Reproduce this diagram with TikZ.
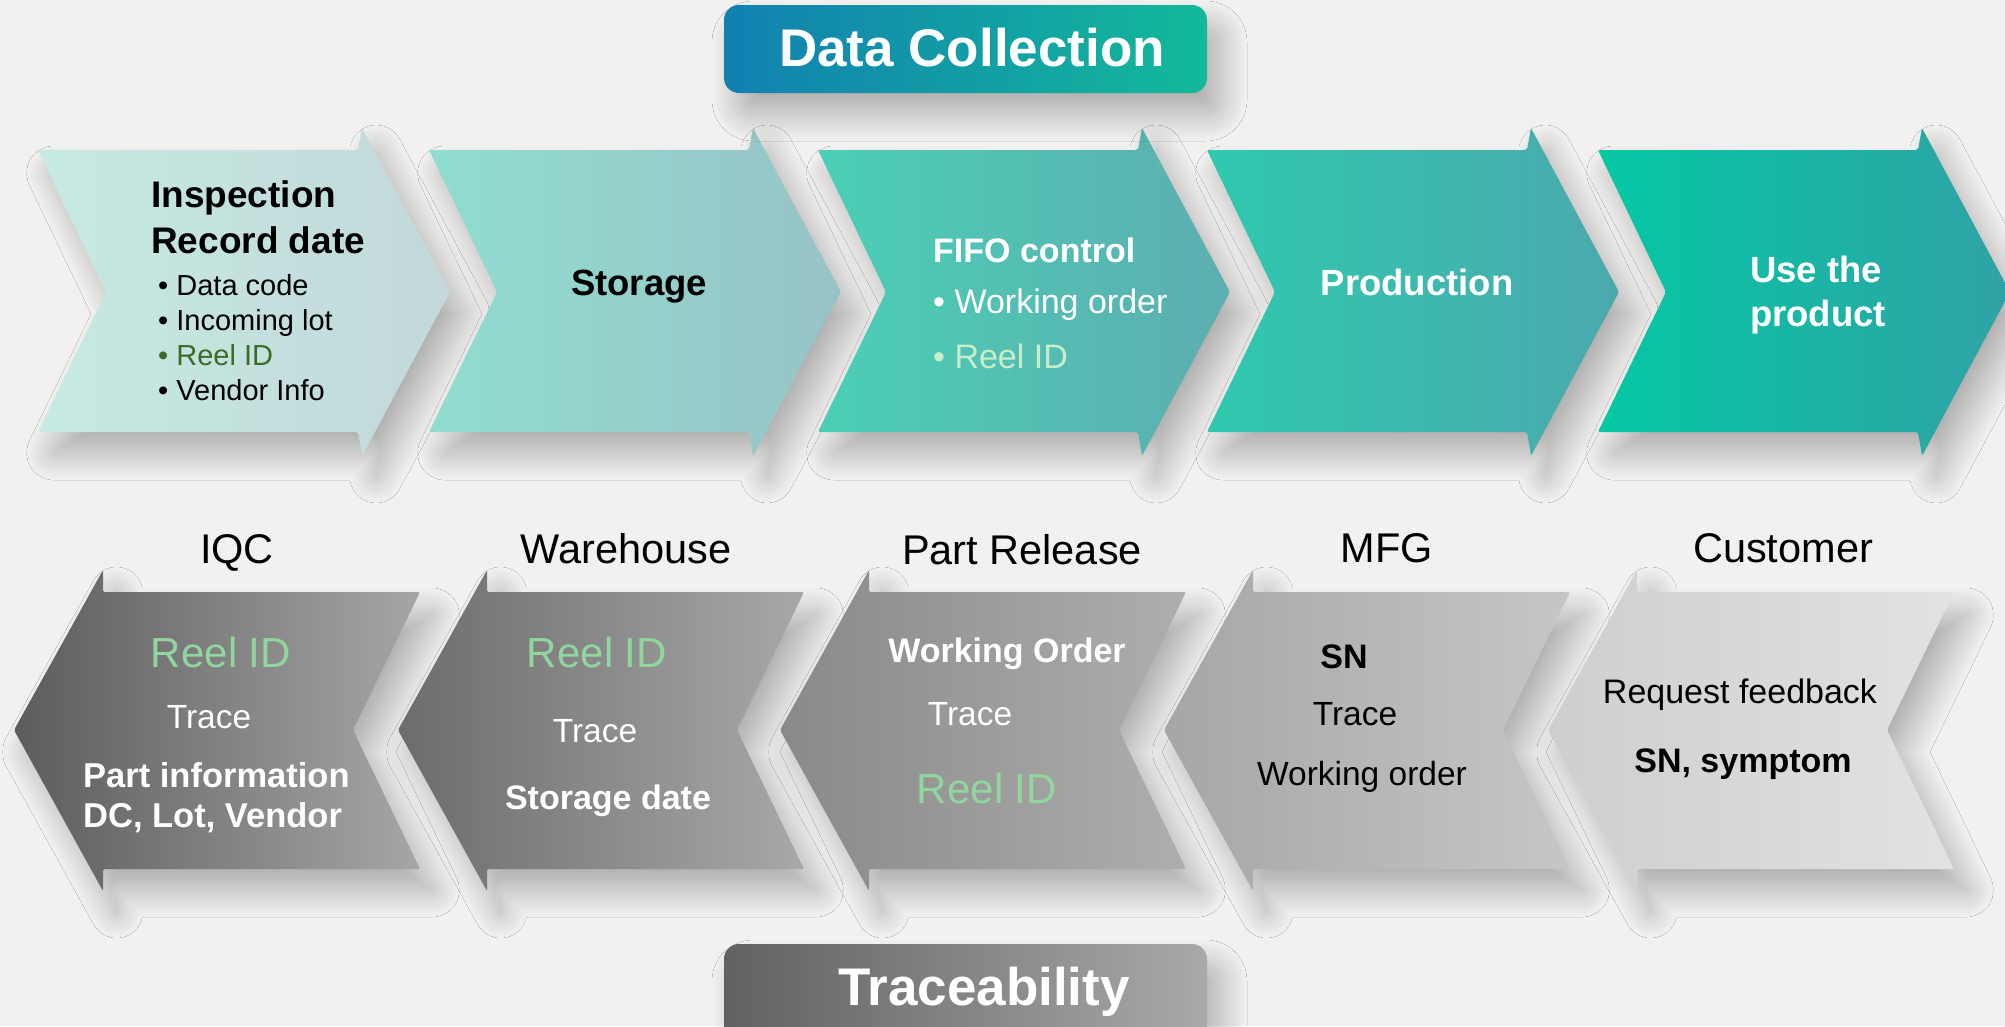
\documentclass[tikz,border=0pt]{standalone}
\usepackage{fontspec}
\setmainfont{Liberation Sans}
\usetikzlibrary{shadows.blur}
\definecolor{bg}{HTML}{F2F1EF}
\definecolor{caL}{HTML}{C6EAE1}\definecolor{caR}{HTML}{C2D8DB}
\definecolor{cbL}{HTML}{90DDCF}\definecolor{cbR}{HTML}{98C3C6}
\definecolor{ccL}{HTML}{4ACFB6}\definecolor{ccR}{HTML}{5DAEB0}
\definecolor{cdL}{HTML}{2FC9AE}\definecolor{cdR}{HTML}{4BA9AE}
\definecolor{ceL}{HTML}{04C8A4}\definecolor{ceR}{HTML}{30A2A6}
\definecolor{gaL}{HTML}{5C5C5C}\definecolor{gaR}{HTML}{A6A6A6}
\definecolor{gbL}{HTML}{6C6C6C}\definecolor{gbR}{HTML}{A8A8A8}
\definecolor{gcL}{HTML}{898989}\definecolor{gcR}{HTML}{AEAEAE}
\definecolor{gdL}{HTML}{A6A6A6}\definecolor{gdR}{HTML}{C6C6C6}
\definecolor{geL}{HTML}{CECECE}\definecolor{geR}{HTML}{E2E2E2}
\definecolor{dcL}{HTML}{1180B0}\definecolor{dcR}{HTML}{13B99A}
\definecolor{trL}{HTML}{616161}\definecolor{trR}{HTML}{A9A9A9}
\definecolor{reelG}{HTML}{90D69E}
\definecolor{reelD}{HTML}{3D6B27}
\definecolor{reelP}{HTML}{C8EDC8}
\newcommand\fsz[1]{\fontsize{#1}{#1}\selectfont}
\newcommand\topchev[3]{%
  \path[shad, left color=#2, right color=#3, rounded corners=2pt]
    (#1,150) -- (#1+320,150) -- (#1+324,128) -- (#1+412,292) -- (#1+324,456)
    -- (#1+320,432) -- (#1,432) -- (#1+68,292) -- cycle;}
\newcommand\botarr[3]{%
  \path[shad, left color=#2, right color=#3, rounded corners=2pt]
    (#1,730) -- (#1+89,570) -- (#1+89,592) -- (#1+406,592) -- (#1+339,730)
    -- (#1+406,869) -- (#1+89,869) -- (#1+89,891) -- cycle;}
\begin{document}
\begin{tikzpicture}[x=1pt,y=-1pt,
  txt/.style={inner sep=0pt, anchor=base},
  shad/.style={blur shadow={shadow xshift=14pt, shadow yshift=-22pt, shadow blur radius=26pt, shadow blur steps=30, shadow opacity=28}}]
\useasboundingbox (0,0) rectangle (2005,1026);
\clip (0,0) rectangle (2005,1026);
\fill[bg] (0,0) rectangle (2005,1026);

% top row
\topchev{38}{caL}{caR}
\topchev{429}{cbL}{cbR}
\topchev{818}{ccL}{ccR}
\topchev{1207}{cdL}{cdR}
\topchev{1598}{ceL}{ceR}

% bottom row
\botarr{14}{gaL}{gaR}
\botarr{398}{gbL}{gbR}
\botarr{780}{gcL}{gcR}
\botarr{1164}{gdL}{gdR}
\botarr{1548}{geL}{geR}

% header boxes
\path[shad, rounded corners=15pt, left color=dcL, right color=dcR] (724,5) rectangle (1207,93);
\node[txt, white, font=\bfseries\fsz{53}] (dc) at (972,66) {Data Collection};
\path[shad, rounded corners=15pt, left color=trL, right color=trR] (724,944) rectangle (1207,1060);
\node[txt, white, font=\bfseries\fsz{53}] (tr) at (984,1005) {Traceability};

% top texts
\node[txt, anchor=base west, font=\bfseries\fsz{37}] (t1a) at (151,207) {Inspection};
\node[txt, anchor=base west, font=\bfseries\fsz{37}] (t1b) at (151,253) {Record date};
\node[txt, anchor=base west, font=\fsz{29}] (t1c) at (158,295) {• Data code};
\node[txt, anchor=base west, font=\fsz{29}] (t1d) at (158,330) {• Incoming lot};
\node[txt, anchor=base west, font=\fsz{29}, text=reelD] (t1e) at (158,365) {• Reel ID};
\node[txt, anchor=base west, font=\fsz{29}] (t1f) at (158,400) {• Vendor Info};
\node[txt, font=\bfseries\fsz{36.5}] (t2) at (639,295) {Storage};
\node[txt, anchor=base west, white, font=\bfseries\fsz{34}] (t3a) at (933,262) {FIFO control};
\node[txt, anchor=base west, white, font=\fsz{34}] (t3b) at (933,313) {• Working order};
\node[txt, anchor=base west, text=reelP, font=\fsz{34}] (t3c) at (933,368) {• Reel ID};
\node[txt, white, font=\bfseries\fsz{36.5}] (t4) at (1417,295) {Production};
\node[txt, white, font=\bfseries\fsz{36.5}] (t5a) at (1816,282) {Use the};
\node[txt, white, font=\bfseries\fsz{36.5}] (t5b) at (1818,326) {product};

% bottom labels
\node[txt, font=\fsz{41.5}] (l1) at (237,563) {IQC};
\node[txt, font=\fsz{41.5}] (l2) at (626,563) {Warehouse};
\node[txt, font=\fsz{41.5}] (l3) at (1022,564) {Part Release};
\node[txt, font=\fsz{41.5}] (l4) at (1387,562) {MFG};
\node[txt, font=\fsz{41.5}] (l5) at (1783,562) {Customer};

% bottom texts
\node[txt, text=reelG, font=\fsz{42}] (b1a) at (221,667) {Reel ID};
\node[txt, white, font=\fsz{33.5}] (b1b) at (209,728) {Trace};
\node[txt, anchor=base west, white, font=\bfseries\fsz{34.5}] (b1c) at (83,787) {Part information};
\node[txt, anchor=base west, white, font=\bfseries\fsz{34.5}] (b1d) at (83,827) {DC, Lot, Vendor};
\node[txt, text=reelG, font=\fsz{42}] (b2a) at (597,667) {Reel ID};
\node[txt, white, font=\fsz{33.5}] (b2b) at (595,742) {Trace};
\node[txt, white, font=\bfseries\fsz{34}] (b2c) at (608,809) {Storage date};
\node[txt, white, font=\bfseries\fsz{34}] (b3a) at (1007,662) {Working Order};
\node[txt, white, font=\fsz{33.5}] (b3b) at (970,725) {Trace};
\node[txt, text=reelG, font=\fsz{42}] (b3c) at (987,803) {Reel ID};
\node[txt, font=\bfseries\fsz{34}] (b4a) at (1344,668) {SN};
\node[txt, font=\fsz{33.5}] (b4b) at (1355,725) {Trace};
\node[txt, font=\fsz{33.5}] (b4c) at (1362,785) {Working order};
\node[txt, font=\fsz{34}] (b5a) at (1740,703) {Request feedback};
\node[txt, font=\bfseries\fsz{34}] (b5b) at (1743,772) {SN, symptom};
\end{tikzpicture}
\end{document}
